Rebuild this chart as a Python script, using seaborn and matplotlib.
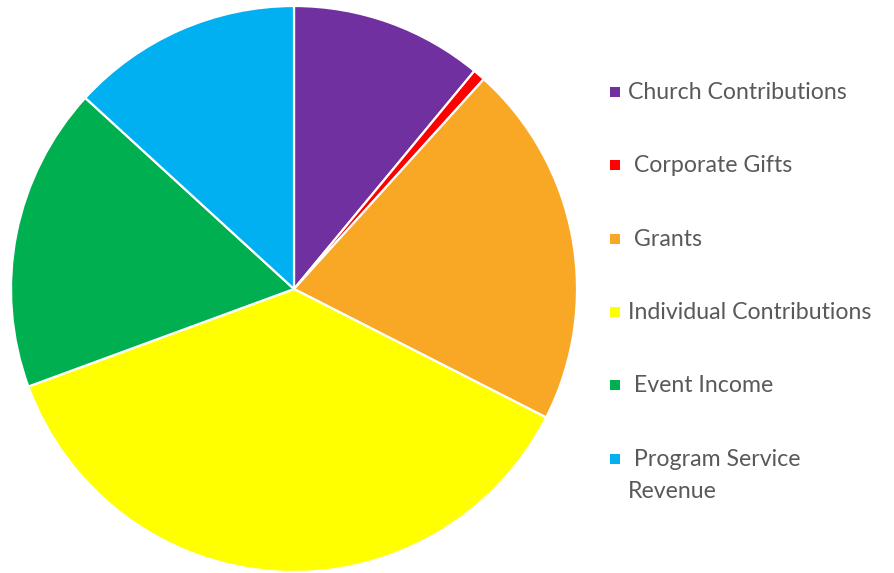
import matplotlib.pyplot as plt
import matplotlib.patches as mpatches
import seaborn as sns

# revenue sources, shares in percent
categories = ['Church Contributions', ' Corporate Gifts', ' Grants',
              'Individual Contributions', ' Event Income', ' Program Service\nRevenue']
shares = [11.0, 0.7, 20.8, 36.9, 17.4, 13.2]
colors = ['#7030A0', '#FF0000', '#F8A825', '#FFFF00', '#00B050', '#00B0F0']

sns.set_theme(style="white")
plt.rcParams['font.family'] = ['Lato', 'DejaVu Sans']

W, H = 895, 573
fig = plt.figure(figsize=(W / 100, H / 100), dpi=100)

# pie centred at (294, 289) px, radius 283 px
cx, cy, r = 294, 289, 283
ax = fig.add_axes([(cx - r) / W, (H - cy - r) / H, 2 * r / W, 2 * r / H])
wedges, _ = ax.pie(shares, colors=sns.color_palette(colors), startangle=90,
                   counterclock=False,
                   wedgeprops=dict(edgecolor='white', linewidth=1.6))
ax.set_xlim(-1, 1)
ax.set_ylim(-1, 1)
ax.set_aspect('equal')
ax.axis('off')
for w in wedges:
    w.set_clip_on(False)

# legend on the right, drawn by hand to keep the wide spacing
text_color = '#595959'
for i, (lab, col) in enumerate(zip(categories, colors)):
    base = 99 + i * 73.3
    fig.patches.append(mpatches.Rectangle((610 / W, 1 - (base - 2) / H), 10 / W, 10 / H,
                                          transform=fig.transFigure, facecolor=col,
                                          edgecolor='none'))
    for k, line in enumerate(lab.split('\n')):
        fig.text(628 / W, 1 - (base + k * 32) / H, line, color=text_color,
                 fontsize=16.7, ha='left', va='baseline')

fig.savefig('out.png', dpi=100)
